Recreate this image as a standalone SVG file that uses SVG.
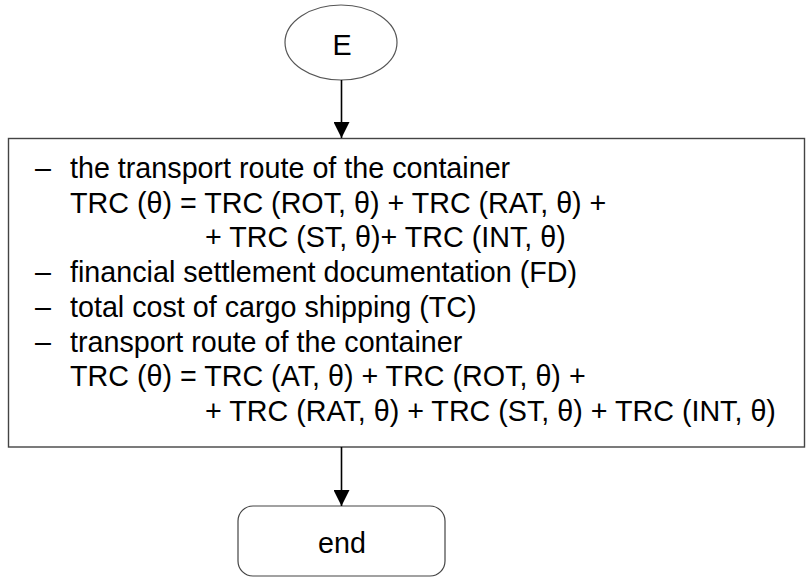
<svg xmlns="http://www.w3.org/2000/svg" width="806" height="578" viewBox="0 0 806 578">
<style>
.t{font-family:"Liberation Sans",Arial,sans-serif;font-size:28.7px;fill:#000}
.c{text-anchor:middle}
.edge{stroke:#000;stroke-width:1.6;fill:none}
</style>
<defs>
<marker id="ah" markerWidth="16" markerHeight="16" viewBox="0 0 16 16" refX="16" refY="8" orient="auto" markerUnits="userSpaceOnUse">
<path d="M0,0 L16,8 L0,16 Z" fill="#000"/>
</marker>
</defs>
<rect width="806" height="578" fill="#fff"/>
<g id="start">
<ellipse cx="341" cy="42.5" rx="56" ry="37.5" fill="#fff" stroke="#555" stroke-width="1.2"/>
<text class="t c" x="342" y="55">E</text>
</g>
<g id="process">
<rect x="8.5" y="138.5" width="796" height="308.5" fill="#fff" stroke="#444" stroke-width="1.4"/>
<text class="t" x="35" y="178">–</text>
<text class="t" x="70" y="178">the transport route of the container</text>
<text class="t" x="70" y="212.7">TRC (θ) = TRC (ROT, θ) + TRC (RAT, θ) +</text>
<text class="t" x="205" y="247.4">+ TRC (ST, θ)+ TRC (INT, θ)</text>
<text class="t" x="35" y="282.1">–</text>
<text class="t" x="70" y="282.1">financial settlement documentation (FD)</text>
<text class="t" x="35" y="316.8">–</text>
<text class="t" x="70" y="316.8">total cost of cargo shipping (TC)</text>
<text class="t" x="35" y="351.5">–</text>
<text class="t" x="70" y="351.5">transport route of the container</text>
<text class="t" x="70" y="386.2">TRC (θ) = TRC (AT, θ) + TRC (ROT, θ) +</text>
<text class="t" x="205" y="420.9">+ TRC (RAT, θ) + TRC (ST, θ) + TRC (INT, θ)</text>
</g>
<g id="end">
<rect x="238" y="506" width="207" height="70" rx="15" ry="15" fill="#fff" stroke="#444" stroke-width="1.2"/>
<text class="t c" x="342" y="553">end</text>
</g>
<g id="connectors">
<line class="edge" x1="341.5" y1="80" x2="341.5" y2="138" marker-end="url(#ah)"/>
<line class="edge" x1="341.5" y1="447" x2="341.5" y2="506" marker-end="url(#ah)"/>
</g>
</svg>
